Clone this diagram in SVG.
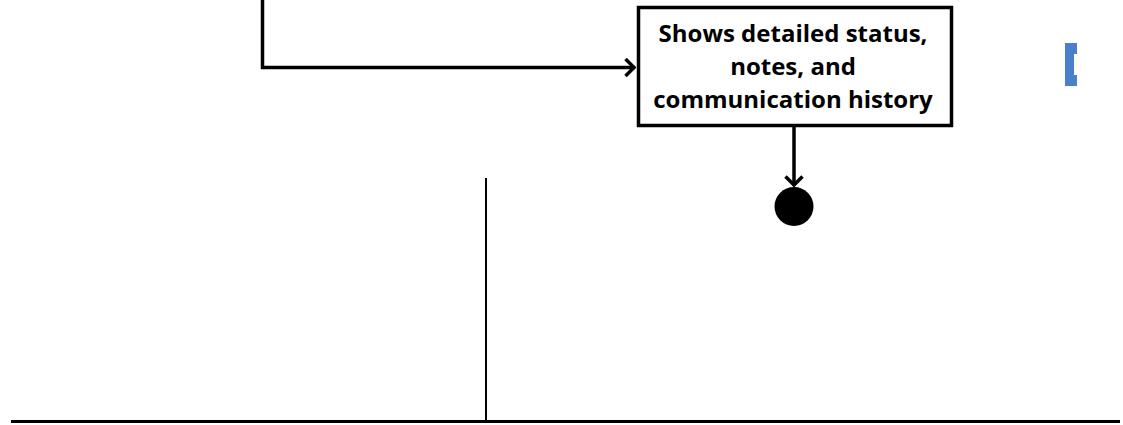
<svg xmlns="http://www.w3.org/2000/svg" width="1123" height="425" viewBox="0 0 1123 425">
  <style>
    .box { fill: #ffffff; stroke: #000000; stroke-width: 3.5; }
    .conn { fill: none; stroke: #000000; stroke-width: 3.5; stroke-linejoin: miter; }
    .lbl { font-family: "Open Sans", "Noto Sans", sans-serif; font-weight: 700; font-size: 24px; fill: #000000; text-anchor: middle; }
    .rule { stroke: #000000; fill: none; }
  </style>
  <defs>
    <marker id="chev" viewBox="0 0 12 20" refX="11" refY="10" markerWidth="12" markerHeight="20" markerUnits="userSpaceOnUse" orient="auto">
      <path d="M1.5 1.5 L10 10 L1.5 18.5" fill="none" stroke="#000000" stroke-width="3.5"/>
    </marker>
  </defs>
  <rect width="1123" height="425" fill="#ffffff"/>
  <g id="connectors">
    <path class="conn" d="M262.5 0 V67.5 H635" marker-end="url(#chev)"/>
    <path class="conn" d="M794 127 V186" marker-end="url(#chev)"/>
  </g>
  <g id="node-details">
    <rect class="box" x="638.5" y="7.5" width="313" height="118"/>
    <text class="lbl" x="793" y="42">Shows detailed status,</text>
    <text class="lbl" x="793" y="75">notes, and</text>
    <text class="lbl" x="793" y="108">communication history</text>
  </g>
  <g id="node-end">
    <circle cx="794" cy="206.5" r="19.5" fill="#000000"/>
  </g>
  <g id="frame">
    <line class="rule" x1="486" y1="178" x2="486" y2="421" stroke-width="2"/>
    <line class="rule" x1="11" y1="421.5" x2="1120" y2="421.5" stroke-width="3"/>
  </g>
  <path id="blue-mark" d="M1065 43 H1077 V54 H1074 V75 H1077 V86 H1065 Z" fill="#4a7fcc"/>
</svg>
